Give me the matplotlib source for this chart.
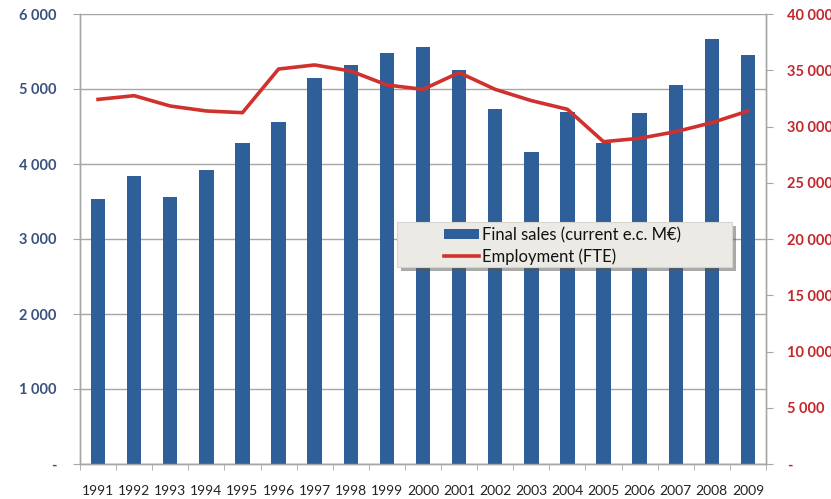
import matplotlib
matplotlib.use('Agg')
import matplotlib.pyplot as plt
from matplotlib.patches import Rectangle
from matplotlib.patheffects import withSimplePatchShadow
from matplotlib.ticker import FuncFormatter, MultipleLocator

years = [str(y) for y in range(1991, 2010)]
final_sales = [3530, 3845, 3560, 3920, 4285, 4560, 5150, 5320, 5485, 5560,
               5260, 4730, 4160, 4690, 4280, 4680, 5060, 5670, 5460]
employment = [32410, 32740, 31820, 31380, 31230, 35110, 35470, 34930, 33690, 33300,
              34790, 33300, 32300, 31530, 28650, 28950, 29540, 30340, 31380]

BLUE = '#2f5f98'
RED = '#d0312d'
LEFT_TXT = '#3a5180'
RIGHT_TXT = '#c3262b'
GRID = '#a6a6a6'

plt.rcParams['font.family'] = ['Lato', 'DejaVu Sans']


def thousands(v, _):
    if v == 0:
        return '-'
    return f'{int(v):,}'.replace(',', ' ')


fig = plt.figure(figsize=(8.31, 4.99), dpi=100)
ax = fig.add_axes([80 / 831, 35 / 499, 686 / 831, 450 / 499])
ax2 = ax.twinx()

x = list(range(len(years)))
ax.bar(x, final_sales, width=0.4, color=BLUE, zorder=3,
       label='Final sales (current e.c. M€)')
ax2.plot(x, employment, color=RED, linewidth=2.6, zorder=4,
         label='Employment (FTE)')

ax.set_xlim(-0.5, len(years) - 0.5)
ax.set_ylim(0, 6000)
ax2.set_ylim(0, 40000)
ax.yaxis.set_major_locator(MultipleLocator(1000))
ax2.yaxis.set_major_locator(MultipleLocator(5000))
ax.yaxis.set_major_formatter(FuncFormatter(thousands))
ax2.yaxis.set_major_formatter(FuncFormatter(thousands))

ax.grid(True, axis='y', color=GRID, linewidth=1.0, zorder=0)
ax.set_axisbelow(True)

# ── Spines ────────────────────────────────────────────────────────────
for a in (ax, ax2):
    a.spines['top'].set_visible(False)
    for s in ('left', 'right', 'bottom'):
        a.spines[s].set_color(GRID)
        a.spines[s].set_linewidth(1.0)

# x ticks between categories
ax.set_xticks(x)
ax.set_xticklabels(years, fontsize=10, color='#222222')
ax.tick_params(axis='x', length=0, pad=15)
ax.set_xticks([i + 0.5 for i in range(-1, len(years))], minor=True)
ax.tick_params(axis='x', which='minor', length=4, color=GRID, direction='out')

ax.tick_params(axis='y', length=5, color=GRID, direction='out', pad=12,
               labelsize=10.5, labelcolor=LEFT_TXT)
ax2.tick_params(axis='y', length=5, color=GRID, direction='out', pad=10,
                labelsize=10.5, labelcolor=RIGHT_TXT)
for lbl in ax.get_yticklabels() + ax2.get_yticklabels():
    lbl.set_fontweight('bold')

# ── Legend: wide shaded box with the entries drawn on top ─────────────
box = Rectangle((0.462, 0.438), 0.488, 0.10, transform=ax2.transAxes,
                facecolor='#ebeae4', edgecolor='#d6d5cf', linewidth=0.8,
                zorder=9, path_effects=[withSimplePatchShadow(
                    offset=(3, -3), shadow_rgbFace='#555555', alpha=0.5)])
ax2.add_patch(box)

h1, l1 = ax.get_legend_handles_labels()
h2, l2 = ax2.get_legend_handles_labels()
leg = ax2.legend(h1 + h2, l1 + l2, loc='upper left',
                 bbox_to_anchor=(0.531, 0.527),
                 fontsize=12, frameon=False,
                 handlelength=2.1, handleheight=0.5, handletextpad=0.15,
                 borderpad=0, labelspacing=0.3, borderaxespad=0)
plt.setp(leg.get_texts(), color='#111111')
leg.set_zorder(10)

plt.savefig('out.png', dpi=100)
